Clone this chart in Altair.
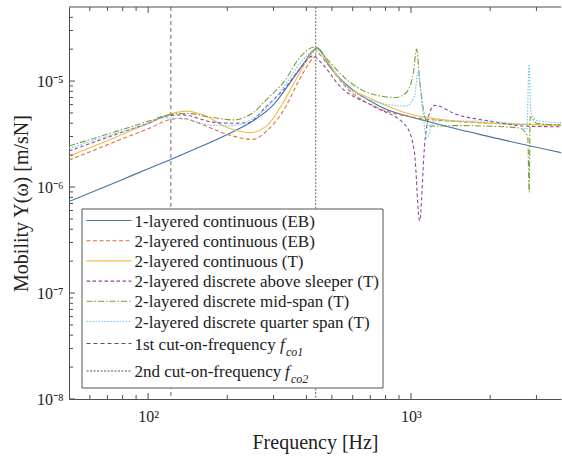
import altair as alt
import pandas as pd

FONT = "Liberation Serif"
AX = "#4d4d4d"
TXT = "#222222"

# ---------------- data ----------------
f_1l_eb = [50, 80, 100, 122, 150, 200, 250, 300, 350, 400, 420, 440, 460, 480, 520, 567, 759, 1143, 1822, 3733]
y_1l_eb = [7.3e-7, 1.18e-6, 1.49e-6, 1.82e-6, 2.27e-6, 3.14e-6, 4.2e-6, 6.0e-6, 1.0e-5, 1.6e-5,
           1.9e-5, 2.05e-5, 1.85e-5, 1.5e-5, 1.15e-5, 9.3e-6, 5.8e-6, 4.2e-6, 3.14e-6, 2.11e-6]

f_2l_eb = [50, 76, 100, 122, 135, 160, 200, 250, 282, 326, 377, 420, 445, 480, 567, 759, 1000, 1500, 2000, 3733]
y_2l_eb = [1.79e-6, 2.72e-6, 3.55e-6, 4.35e-6, 4.45e-6, 3.9e-6, 3.14e-6, 2.82e-6, 3.37e-6, 5.2e-6,
           1.04e-5, 1.6e-5, 1.79e-5, 1.45e-5, 8.7e-6, 5.5e-6, 4.6e-6, 4.15e-6, 4.0e-6, 3.85e-6]

f_2l_t = [50, 80, 100, 122, 140, 165, 200, 243, 282, 326, 377, 410, 440, 480, 535, 716, 959, 1286, 1718, 3733]
y_2l_t = [1.96e-6, 3.15e-6, 4.0e-6, 4.9e-6, 5.2e-6, 4.7e-6, 3.64e-6, 3.26e-6, 3.76e-6, 6.25e-6,
          1.2e-5, 1.7e-5, 1.99e-5, 1.55e-5, 1.04e-5, 6.7e-6, 5.0e-6, 4.35e-6, 4.1e-6, 3.82e-6]

f_sleeper = [50, 80, 100, 122, 135, 176, 210, 240, 282, 330, 377, 423, 460, 535, 716, 959, 1031, 1078,
             1126, 1176, 1229, 1487, 1990, 2725, 3733]
y_sleeper = [2.19e-6, 3.3e-6, 4.0e-6, 4.75e-6, 4.8e-6, 4.1e-6, 4.0e-6, 4.05e-6, 5.8e-6, 8.5e-6, 1.29e-5,
             1.72e-5, 1.45e-5, 9.0e-6, 5.8e-6, 3.76e-6, 2.1e-6, 4.8e-7, 2.44e-6, 5.0e-6, 5.9e-6, 4.85e-6,
             4.2e-6, 3.76e-6, 3.7e-6]

f_mid = [50, 80, 100, 122, 140, 170, 210, 250, 282, 330, 377, 430, 480, 567, 716, 879, 959, 1021, 1050,
         1078, 1126, 1176, 1500, 2000, 2600, 2780, 2815, 2840, 3000, 3733]
y_mid = [2.44e-6, 3.5e-6, 4.17e-6, 4.85e-6, 4.95e-6, 4.6e-6, 4.3e-6, 5.0e-6, 6.7e-6, 1.0e-5, 1.66e-5,
         2.1e-5, 1.6e-5, 1.04e-5, 7.5e-6, 7.0e-6, 7.8e-6, 1.2e-5, 2.0e-5, 1.04e-5, 4.7e-6, 3.76e-6,
         3.8e-6, 3.75e-6, 3.6e-6, 3.0e-6, 8.9e-7, 4.6e-6, 4.0e-6, 3.85e-6]

f_quarter = [50, 80, 100, 115, 140, 176, 210, 245, 282, 330, 377, 430, 480, 567, 716, 959, 1031, 1062,
             1110, 1144, 1229, 1718, 2585, 2760, 2810, 2860, 3050, 3733]
y_quarter = [2.32e-6, 3.35e-6, 3.95e-6, 4.5e-6, 4.35e-6, 3.82e-6, 3.8e-6, 4.3e-6, 5.6e-6, 9.0e-6,
             1.45e-5, 1.92e-5, 1.5e-5, 9.0e-6, 6.5e-6, 5.8e-6, 7.2e-6, 1.2e-5, 5.0e-6, 2.92e-6, 4.2e-6,
             4.2e-6, 3.9e-6, 3.5e-6, 1.44e-5, 5.0e-6, 4.2e-6, 4.05e-6]

cut_on = [122, 434]

labels = [
    "1-layered continuous (EB)",
    "2-layered continuous (EB)",
    "2-layered continuous (T)",
    "2-layered discrete above sleeper (T)",
    "2-layered discrete mid-span (T)",
    "2-layered discrete quarter span (T)",
]
cut_labels = ["1st cut-on-frequency", "2nd cut-on-frequency"]
cut_subs = ["co1", "co2"]

x_major = [100, 1000]
x_minor = [60, 70, 80, 90, 200, 300, 400, 500, 600, 700, 800, 900, 2000, 3000]
y_major = [1e-8, 1e-7, 1e-6, 1e-5]
y_minor = [k * 10.0 ** e for e in (-8, -7, -6, -5) for k in range(2, 10) if k * 10.0 ** e < 4.9e-5]

# ---------------- styling ----------------
W, H = 492, 392
xs = alt.Scale(type="log", domain=[50, 3720], nice=False)
ys = alt.Scale(type="log", domain=[1e-8, 5e-5], nice=False)

x_axis = alt.Axis(values=x_major, labelExpr="datum.value < 300 ? '10²' : '10³'", ticks=False, grid=False,
                  domainColor=AX, labelFont=FONT, labelFontSize=16, labelColor=TXT, labelPadding=9,
                  labelFlush=False,
                  title="Frequency [Hz]", titleFont=FONT, titleFontSize=20, titleFontWeight="normal",
                  titleColor=TXT, titleX=W / 2, titleY=49, titleBaseline="alphabetic", titleAlign="center")
y_axis = alt.Axis(values=y_major,
                  labelExpr="datum.value < 3e-8 ? '10⁻⁸' : datum.value < 3e-7 ? '10⁻⁷' : datum.value < 3e-6 ? '10⁻⁶' : '10⁻⁵'",
                  ticks=False, grid=False, domainColor=AX, labelFont=FONT, labelFontSize=16, labelColor=TXT,
                  labelPadding=6, labelFlush=False,
                  title="Mobility Y(ω) [m/sN]", titleFont=FONT, titleFontSize=20, titleFontWeight="normal",
                  titleColor=TXT, titleX=-42, titleY=H / 2, titleAngle=270, titleBaseline="alphabetic",
                  titleAlign="center")

styles = [
    ("#3d72a8", None),
    ("#e0703a", [4, 2.5]),
    ("#efbd4a", None),
    ("#8e4a9e", [3.5, 2.5]),
    ("#76a035", [6, 2, 1.5, 2]),
    ("#6cc8f0", [1.5, 1.5]),
]
series = [(f_1l_eb, y_1l_eb), (f_2l_eb, y_2l_eb), (f_2l_t, y_2l_t),
          (f_sleeper, y_sleeper), (f_mid, y_mid), (f_quarter, y_quarter)]

layers = []

# cut-on frequency lines
cut_styles = [("#555555", [4, 3]), ("#555555", [2, 1.5])]
for fc, (col, dash) in zip(cut_on, cut_styles):
    layers.append(
        alt.Chart(pd.DataFrame({"f": [fc]})).mark_rule(color=col, strokeDash=dash, strokeWidth=0.9)
        .encode(x=alt.X("f:Q", scale=xs, axis=x_axis))
    )

for (fs, vs), (col, dash) in zip(series, styles):
    kw = dict(color=col, strokeWidth=1.1, interpolate="monotone", clip=True)
    if dash is not None:
        kw["strokeDash"] = dash
    layers.append(
        alt.Chart(pd.DataFrame({"f": fs, "v": vs})).mark_line(**kw)
        .encode(x=alt.X("f:Q", scale=xs, axis=x_axis), y=alt.Y("v:Q", scale=ys, axis=y_axis))
    )

# inward ticks (bottom, top, left)
for vals, ln in ((x_major, 6), (x_minor, 4)):
    d = pd.DataFrame({"f": vals})
    layers.append(alt.Chart(d).mark_rule(color=AX, strokeWidth=1)
                  .encode(x=alt.X("f:Q", scale=xs, axis=x_axis), y=alt.value(H), y2=alt.value(H - ln)))
    layers.append(alt.Chart(d).mark_rule(color=AX, strokeWidth=1)
                  .encode(x=alt.X("f:Q", scale=xs, axis=x_axis), y=alt.value(0), y2=alt.value(ln)))
for vals, ln in ((y_major, 6), (y_minor, 4)):
    d = pd.DataFrame({"v": vals})
    layers.append(alt.Chart(d).mark_rule(color=AX, strokeWidth=1)
                  .encode(y=alt.Y("v:Q", scale=ys, axis=y_axis), x=alt.value(0), x2=alt.value(ln)))

dummy = pd.DataFrame({"a": [0]})
# top border
layers.append(alt.Chart(dummy).mark_rule(color=AX, strokeWidth=1)
              .encode(x=alt.value(0), x2=alt.value(W), y=alt.value(0)))

# legend box
LX0, LX1, LY0, LY1 = 13, 314, 202, 381
layers.append(alt.Chart(dummy).mark_rect(fill="white", stroke="#555555", strokeWidth=1)
              .encode(x=alt.value(LX0), x2=alt.value(LX1), y=alt.value(LY0), y2=alt.value(LY1)))

row_y = [213.5 + 20.2 * i for i in range(6)] + [336.5, 364]
all_styles = styles + cut_styles
for i, (col, dash) in enumerate(all_styles):
    kw = dict(color=col, strokeWidth=1.1)
    if dash is not None:
        kw["strokeDash"] = dash
    layers.append(alt.Chart(dummy).mark_rule(**kw)
                  .encode(x=alt.value(17.5), x2=alt.value(62.5), y=alt.value(row_y[i])))

for i, lab in enumerate(labels + cut_labels):
    layers.append(alt.Chart(dummy).mark_text(text=lab, font=FONT, fontSize=17, color=TXT, align="left",
                                             baseline="middle")
                  .encode(x=alt.value(65.5), y=alt.value(row_y[i] + 1)))

f_x = [211, 216]
for j in range(2):
    yy = row_y[6 + j] + 1
    layers.append(alt.Chart(dummy).mark_text(text="f", font=FONT, fontSize=17, fontStyle="italic", color=TXT,
                                             align="left", baseline="middle")
                  .encode(x=alt.value(f_x[j]), y=alt.value(yy)))
    layers.append(alt.Chart(dummy).mark_text(text=cut_subs[j], font=FONT, fontSize=12, fontStyle="italic",
                                             color=TXT, align="left", baseline="middle")
                  .encode(x=alt.value(f_x[j] + 6), y=alt.value(yy + 7)))

chart = (
    alt.layer(*layers)
    .properties(width=W, height=H, padding={"left": 69, "top": 7, "right": 1, "bottom": 60},
                autosize=alt.AutoSizeParams(type="none"), background="white")
    .configure_view(stroke=None)
)

chart.save("out.html", embed_options={"renderer": "svg", "actions": False})
